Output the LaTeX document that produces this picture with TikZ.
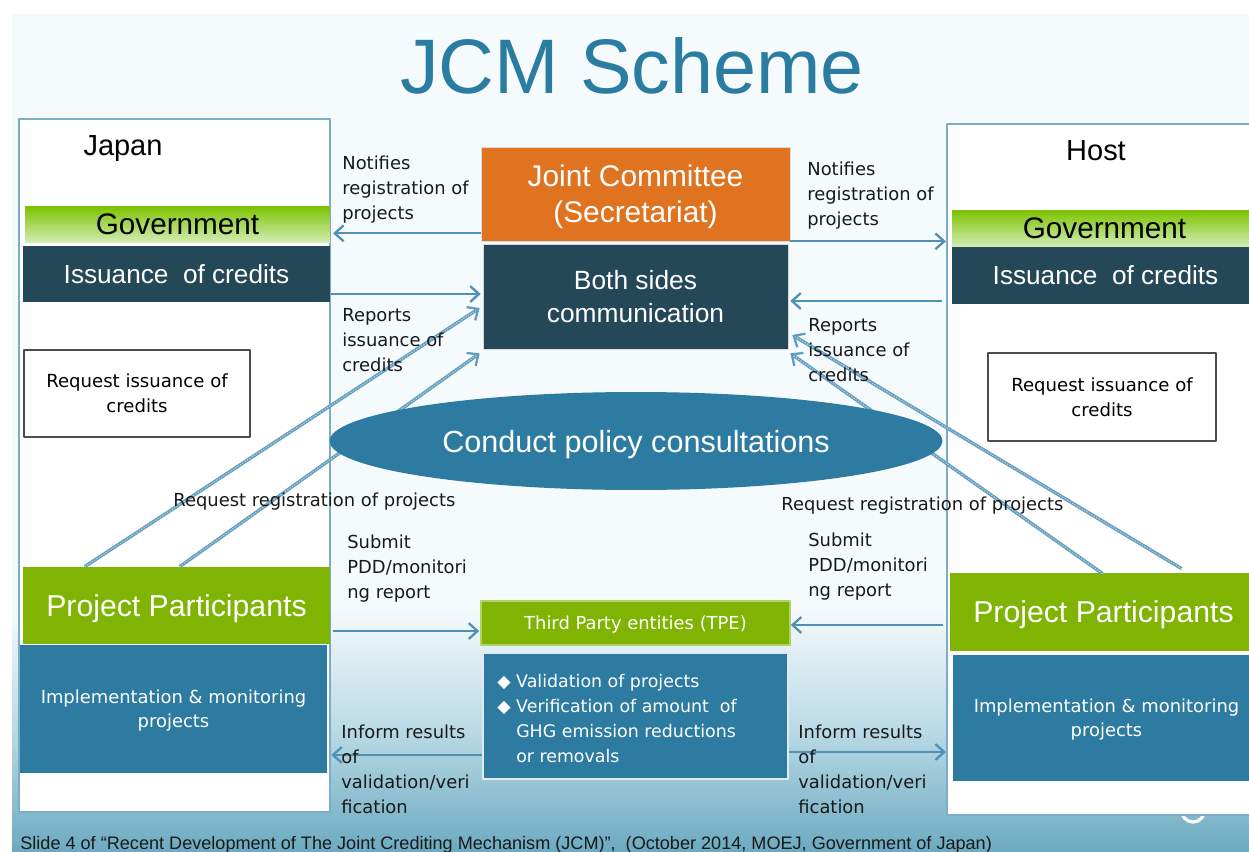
\documentclass[tikz,border=0pt]{standalone}
\usepackage{fontspec}
\setmainfont{Liberation Sans}
\newfontfamily\lblfont{DejaVu Sans}
\usetikzlibrary{arrows.meta,calc,shapes.geometric}

\definecolor{titleblue}{RGB}{42,124,160}
\definecolor{darkteal}{RGB}{36,72,87}
\definecolor{boxblue}{RGB}{45,123,160}
\definecolor{jcorange}{RGB}{224,115,31}
\definecolor{ppgreen}{RGB}{127,180,2}
\definecolor{govgreen}{RGB}{124,194,0}
\definecolor{govlight}{RGB}{212,238,184}
\definecolor{framec}{RGB}{123,173,201}
\definecolor{arrowc}{RGB}{79,144,180}
\definecolor{diagc}{RGB}{98,156,190}
\definecolor{slidebg}{RGB}{245,250,252}
\definecolor{slidemid}{RGB}{186,218,229}
\definecolor{slidelow}{RGB}{108,170,192}

\tikzset{
  frame/.style={rectangle, draw=framec, fill=white, line width=1.3pt, inner sep=0pt},
  gov/.style={rectangle, top color=govgreen, bottom color=govlight, inner sep=0pt, text depth=0pt,
    font=\fontsize{16.9}{20}\selectfont},
  iss/.style={rectangle, fill=darkteal, text=white, inner sep=0pt, text depth=0pt,
    font=\fontsize{14.9}{18}\selectfont},
  reqbox/.style={rectangle, draw=black!70, fill=white, line width=1.4pt, inner sep=0pt,
    align=center, font=\lblfont\fontsize{10.3}{14.2}\selectfont},
  pp/.style={rectangle, fill=ppgreen, text=white, inner sep=0pt, text depth=0pt,
    font=\fontsize{17.2}{20}\selectfont},
  impl/.style={rectangle, fill=boxblue, text=white, inner sep=0pt, align=center, text depth=0pt,
    font=\lblfont\fontsize{10.2}{13.6}\selectfont},
  lbl/.style={inner sep=0pt, align=left, text=black!90,
    font=\lblfont\fontsize{10.2}{14.2}\selectfont},
  arr/.style={draw=arrowc, line width=1.3pt, -{Straight Barb[length=5pt,width=9pt]}},
  diag/.style={draw=diagc, line width=1.9pt, -{Straight Barb[length=5pt,width=9pt,line width=1.3pt]},
    postaction={draw=white!55!diagc, -, line width=0.6pt, dash pattern=on 0.8pt off 0.8pt, shorten >=2pt}}
}

\begin{document}
\begin{tikzpicture}[x=0.02cm, y=-0.02cm, line join=round]
\useasboundingbox (0,0) rectangle (1249,852);
\clip (0,0) rectangle (1249,852);

% slide background
\fill[slidebg] (12,14) rectangle (1249,610);
\shade[top color=slidebg, bottom color=slidemid] (12,609) rectangle (1249,730);
\shade[top color=slidemid, bottom color=slidelow] (12,729) rectangle (1249,852);

\node[text=titleblue, font=\fontsize{44}{50}\selectfont] (title) at (632,66) {JCM Scheme};

% page number peeking out under the host frame
\draw[white, line width=1.8pt] (1193,809) ellipse [x radius=12, y radius=13];

% the two countries
\node[frame, minimum width=6.22cm, minimum height=13.86cm] (jpn) at (174.5,465.5) {};
\node[frame, minimum width=6.3cm, minimum height=13.82cm] (host) at (1104.5,469.5) {};
\node[text depth=0pt, font=\fontsize{16.5}{20}\selectfont] (jpnname) at (123,146) {Japan};
\node[text depth=0pt, font=\fontsize{16.5}{20}\selectfont] (hostname) at (1096,151) {Host};

\node[gov, minimum width=6.1cm, minimum height=0.74cm] (govj) at (177.5,224.5) {Government};
\node[gov, minimum width=6.1cm, minimum height=0.74cm] (govh) at (1104.5,228.5) {Government};
\node[iss, minimum width=6.14cm, minimum height=1.12cm] (issj) at (176.5,274) {Issuance~ of credits};
\node[iss, minimum width=6.14cm, minimum height=1.14cm] (issh) at (1105.5,275.5) {Issuance~ of credits};
\node[reqbox, minimum width=4.52cm, minimum height=1.74cm] (reqj) at (137,393.5) {Request issuance of\\credits};
\node[reqbox, minimum width=4.56cm, minimum height=1.76cm] (reqh) at (1102,397) {Request issuance of\\credits};
\node[pp, minimum width=6.14cm, minimum height=1.54cm] (ppj) at (176.5,605.5) {Project Participants};
\node[pp, minimum width=6.14cm, minimum height=1.56cm] (pph) at (1103.5,612) {Project Participants};
\node[impl, minimum width=6.14cm, minimum height=2.56cm] (implj) at (173.5,709) {Implementation \& monitoring\\projects};
\node[impl, minimum width=6.14cm, minimum height=2.52cm] (implh) at (1106.5,718) {Implementation \& monitoring\\projects};

% middle column
\node[rectangle, fill=jcorange, draw=black!15, text=white, inner sep=0pt, align=center, text depth=0pt,
  minimum width=6.18cm, minimum height=1.88cm, font=\fontsize{17}{20.4}\selectfont]
  (jc) at (635.5,194) {Joint Committee\\(Secretariat)};
\node[rectangle, fill=darkteal, draw=black!15, text=white, inner sep=0pt, align=center, text depth=0pt,
  minimum width=6.1cm, minimum height=2.1cm, font=\fontsize{15}{18.7}\selectfont]
  (both) at (635.5,296.5) {Both sides\\communication};
\node[rectangle, fill=ppgreen, draw=ppgreen!60!white, line width=0.9pt, text=white, inner sep=0pt,
  text depth=0pt, minimum width=6.18cm, minimum height=0.88cm, font=\lblfont\fontsize{10.2}{12}\selectfont]
  (tpe) at (635.5,623) {Third Party entities (TPE)};
\node[rectangle, fill=boxblue, draw=white!85!boxblue, line width=1.3pt, inner sep=0pt,
  minimum width=6.1cm, minimum height=2.52cm] (val) at (635.5,716) {};
\node[anchor=north west, inner sep=0pt, align=left, text=white,
  font=\lblfont\fontsize{9.9}{14.3}\selectfont] (valtxt) at (497,674)
  {◆ Validation of projects\\◆ Verification of amount~ of\\\phantom{◆ }GHG emission reductions\\\phantom{◆ }or removals};

% flows between the boxes
\draw[arr] ($(jc.south west)+(0,-8)$) -- ($(jpn.east |- jc.south)+(2,-8)$);
\draw[arr] ($(jpn.east |- both.center)+(0,-2.5)$) -- ($(both.west)+(-2,-2.5)$);
\draw[arr] (jc.south east) -- (host.west |- jc.south);
\draw[arr] ($(host.west |- both.center)+(-4,4.5)$) -- ($(both.east)+(2,4.5)$);
\draw[arr] ($(ppj.east |- tpe.center)+(3,8)$) -- ($(tpe.west)+(-1,8)$);
\draw[arr] ($(pph.west |- tpe.center)+(-7,2)$) -- ($(tpe.east)+(0,2)$);
\draw[arr] ($(val.west)+(0,39)$) -- ($(implj.east |- val.west)+(4,39)$);
\draw[arr] ($(val.east)+(0,36)$) -- ($(host.west |- val.east)+(0,36)$);

% registration requests up to the committee
\draw[diag] ($(ppj.north west)+(62,0)$) -- ($(both.west)+(-3,11.5)$);
\draw[diag] ($(ppj.north west)+(157,0)$) -- ($(both.south west)+(-3,4)$);
\draw[diag] ($(pph.north west)+(232,-4)$) -- ($(both.east)+(4,38.5)$);
\draw[diag] ($(pph.north west)+(153,1)$) -- ($(both.south east)+(2,4)$);

\node[ellipse, fill=boxblue, text=white, inner sep=0pt, text depth=0pt, minimum width=12.26cm,
  minimum height=1.96cm, font=\fontsize{17.4}{20}\selectfont] (pol) at (636,441) {Conduct policy consultations};

% arrow labels
\node[lbl, anchor=north west] (notj) at (342,155.5) {Notifies\\registration of\\projects};
\node[lbl, anchor=north west] (noth) at (807,161.5) {Notifies\\registration of\\projects};
\node[lbl, anchor=north west] (repj) at (342,308) {Reports\\issuance of\\credits};
\node[lbl, anchor=north west] (reph) at (808,318) {Reports\\issuance of\\credits};
\node[lbl, anchor=base west] (regj) at (173,506.5) {Request registration of projects};
\node[lbl, anchor=base west] (regh) at (781,510) {Request registration of projects};
\node[lbl, anchor=north west] (subj) at (347,534.5) {Submit\\PDD/monitori\\ng report};
\node[lbl, anchor=north west] (subh) at (808,533) {Submit\\PDD/monitori\\ng report};
\node[lbl, anchor=north west] (infj) at (341,724.5) {Inform results\\of\\validation/veri\\fication};
\node[lbl, anchor=north west] (infh) at (798,724.5) {Inform results\\of\\validation/veri\\fication};

\node[anchor=base west, inner sep=0pt, text=black!90, font=\fontsize{10.3}{12}\selectfont] (src) at (20,849)
  {Slide 4 of “Recent Development of The Joint Crediting Mechanism (JCM)”,~ (October 2014, MOEJ, Government of Japan)};
\end{tikzpicture}
\end{document}
